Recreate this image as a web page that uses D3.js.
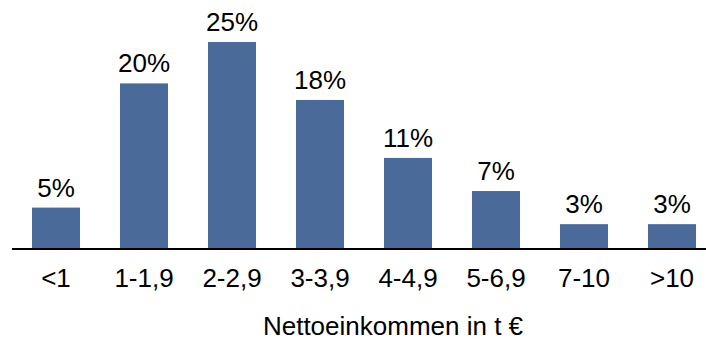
<!DOCTYPE html>
<html>
<head>
<meta charset="utf-8">
<script src="https://cdn.jsdelivr.net/npm/d3@7"></script>
<style>
  html, body { margin: 0; padding: 0; background: #fff; }
  svg { display: block; }
  text { font-family: "Liberation Sans", Arial, sans-serif; fill: #000; }
</style>
</head>
<body>
<svg id="chart" width="706" height="340"></svg>
<script>
// Income brackets (net income in thousand euro) and share of households
const categories = ["<1", "1-1,9", "2-2,9", "3-3,9", "4-4,9", "5-6,9", "7-10", ">10"];
const shares = [5, 20, 25, 18, 11, 7, 3, 3];
const axisTitle = "Nettoeinkommen in t €";

const svg = d3.select("#chart");
const baseY = 249;
const fontSize = 26;

const x = d3.scaleBand()
  .domain(categories)
  .range([12, 716])
  .paddingInner(40 / 88)
  .paddingOuter(20 / 88);

const y = d3.scaleLinear()
  .domain([0, 25])
  .range([baseY, 42]);

// bars
svg.append("g")
  .selectAll("rect")
  .data(shares)
  .join("rect")
  .attr("x", (d, i) => x(categories[i]))
  .attr("y", d => y(d))
  .attr("width", x.bandwidth())
  .attr("height", d => baseY - y(d))
  .attr("fill", "#4a6a9a");

// value labels
svg.append("g")
  .selectAll("text")
  .data(shares)
  .join("text")
  .attr("x", (d, i) => x(categories[i]) + x.bandwidth() / 2)
  .attr("y", d => y(d) - 11)
  .attr("text-anchor", "middle")
  .style("font-size", fontSize + "px")
  .text(d => d + "%");

// category axis
const axis = svg.append("g")
  .attr("transform", `translate(0,${baseY})`)
  .call(d3.axisBottom(x).tickSize(0).tickPadding(0));
axis.select(".domain").remove();
axis.selectAll(".tick text")
  .attr("y", 38)
  .attr("dy", null)
  .style("font-size", fontSize + "px")
  .style("font-family", '"Liberation Sans", Arial, sans-serif')
  .attr("fill", "#000");

svg.append("line")
  .attr("x1", 12).attr("x2", 706)
  .attr("y1", baseY).attr("y2", baseY)
  .attr("stroke", "#000")
  .attr("stroke-width", 2);

// axis title
svg.append("text")
  .attr("x", 393)
  .attr("y", 335)
  .attr("text-anchor", "middle")
  .style("font-size", fontSize + "px")
  .text(axisTitle);
</script>
</body>
</html>
